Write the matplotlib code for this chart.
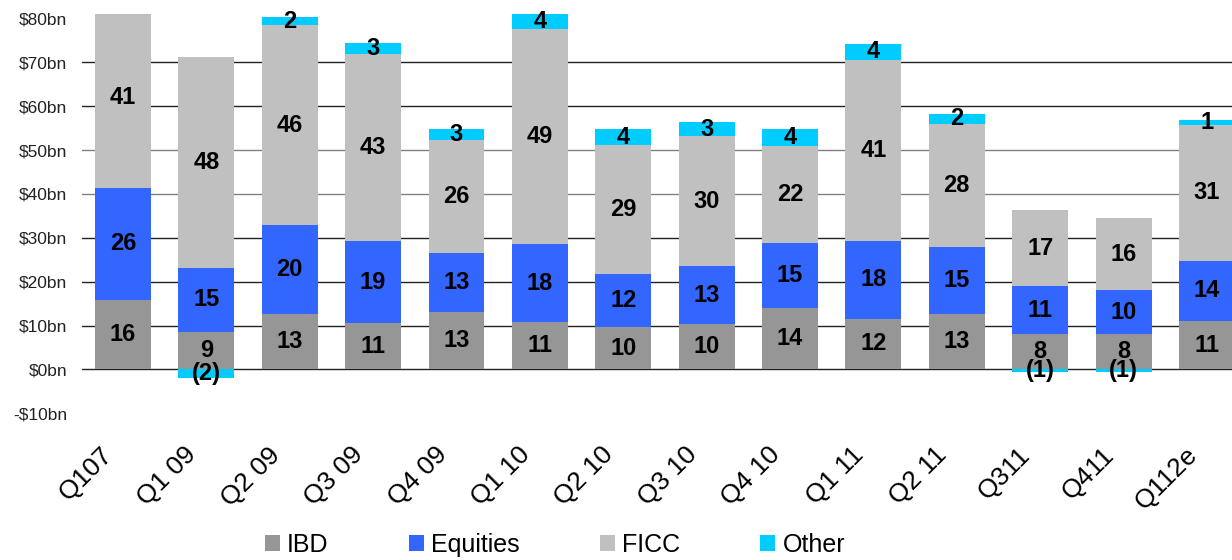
import matplotlib
matplotlib.use("Agg")
import matplotlib.pyplot as plt
import matplotlib.transforms as mtransforms
import numpy as np

plt.rcParams['font.family'] = ['Liberation Sans', 'DejaVu Sans']

categories = ["Q107", "Q1 09", "Q2 09", "Q3 09", "Q4 09", "Q1 10", "Q2 10",
              "Q3 10", "Q4 10", "Q1 11", "Q2 11", "Q311", "Q411", "Q112e"]
ibd      = [15.8, 8.6, 12.6, 10.6, 13.2, 10.8, 9.6, 10.3, 13.9, 11.6, 12.6, 8.0, 8.0, 11.0]
equities = [25.6, 14.6, 20.2, 18.6, 13.4, 17.7, 12.1, 13.2, 14.8, 17.6, 15.2, 10.9, 10.0, 13.8]
ficc     = [41.2, 48.0, 45.6, 42.6, 25.6, 49.1, 29.4, 29.6, 22.3, 41.3, 28.2, 17.4, 16.4, 31.0]
other    = [0.0, -1.9, 2.0, 2.7, 2.7, 3.6, 3.6, 3.3, 3.8, 3.7, 2.3, -0.6, -0.6, 1.1]
series_names = ["IBD", "Equities", "FICC", "Other"]
colors = ["#969696", "#3366FF", "#C0C0C0", "#00CCFF"]
yticks = [-10, 0, 10, 20, 30, 40, 50, 60, 70, 80]
ytick_labels = ["-$10bn", "$0bn", "$10bn", "$20bn", "$30bn", "$40bn",
                "$50bn", "$60bn", "$70bn", "$80bn"]


def fmt(v):
    r = int(round(v))
    return f"({abs(r)})" if r < 0 else str(r)


fig = plt.figure(figsize=(12.32, 5.6), dpi=100)
ax = fig.add_axes([82 / 1232, 1 - 413.3 / 560, 1 - 82 / 1232, (413.3 - 14) / 560])
ax.set_ylim(-10, 81)
ax.set_xlim(-0.49, 13.3)

# gridlines
grid_colors = {0: "#222222", 10: "#222222", 20: "#222222", 30: "#222222",
               40: "#808080", 50: "#808080", 60: "#222222", 70: "#222222"}
for lvl, c in grid_colors.items():
    ax.axhline(lvl, color=c, lw=1.0, zorder=1)

x = np.arange(len(categories))
w = 0.67
pos_base = np.zeros(len(categories))
neg_base = np.zeros(len(categories))
all_series = [ibd, equities, ficc, other]
for name, vals, col in zip(series_names, all_series, colors):
    vals = np.array(vals, dtype=float)
    bottoms = np.where(vals >= 0, pos_base, neg_base)
    ax.bar(x, vals, w, bottom=bottoms, color=col, label=name, zorder=2)
    for xi, b, v in zip(x, bottoms, vals):
        if v == 0:
            continue
        ax.text(xi, b + v / 2, fmt(v), ha="center", va="center",
                fontsize=17, fontweight="bold", color="black", zorder=3,
                clip_on=False)
    pos_base = pos_base + np.where(vals >= 0, vals, 0)
    neg_base = neg_base + np.where(vals < 0, vals, 0)

ax.set_yticks(yticks)
ax.set_yticklabels(ytick_labels, fontsize=12.5, color="#222222")
ax.set_xticks(x)
ax.set_xticklabels(categories, rotation=45, ha="right", rotation_mode="anchor",
                   fontsize=19, color="black")
ax.tick_params(axis="both", length=0)
ax.tick_params(axis="y", pad=10.5)
ax.tick_params(axis="x", pad=24)
offset = mtransforms.ScaledTranslation(-22 / 100, 4 / 100, fig.dpi_scale_trans)
for lab in ax.get_xticklabels():
    lab.set_transform(lab.get_transform() + offset)
for s in ax.spines.values():
    s.set_visible(False)

fig.legend(loc="center", bbox_to_anchor=(555 / 1232, 1 - 545 / 560), ncol=4,
           frameon=False, fontsize=18, handlelength=0.6, handleheight=0.6,
           handletextpad=0.3, columnspacing=3.2)

fig.savefig("out.png", dpi=100)
